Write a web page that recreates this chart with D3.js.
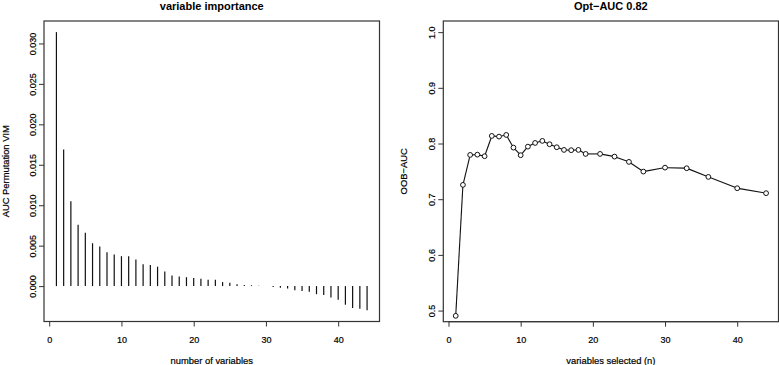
<!DOCTYPE html>
<html>
<head>
<meta charset="utf-8">
<script src="https://cdn.jsdelivr.net/npm/d3@7"></script>
<style>
  body { margin: 0; background: #fff; }
  text { font-family: "Liberation Sans", Arial, sans-serif; fill: #000; }
</style>
</head>
<body>
<div id="container"></div>
<script>
/* CONSTANTS AND GLOBALS */
const width = 779,
  height = 365;

// left panel: permutation importance per variable (type = "h")
const impRank = d3.range(1, 45);
const impVals = [0.0314, 0.0169, 0.0105, 0.0076, 0.0066, 0.0053, 0.0049, 0.0042, 0.0039, 0.0037,
  0.0037, 0.0033, 0.0027, 0.0026, 0.0024, 0.0018, 0.0013, 0.0012, 0.0011, 0.0010,
  0.0009, 0.0008, 0.0008, 0.0005, 0.0004, 0.00022, 0.00015, 0.0001, 0.00005, 0.00002,
  -0.0001, -0.0002, -0.0003, -0.0005, -0.0006, -0.0007, -0.0010, -0.0011, -0.0014, -0.0017,
  -0.0023, -0.0027, -0.0028, -0.0030];
const impYTicks = [0, 0.005, 0.010, 0.015, 0.020, 0.025, 0.030];

// right panel: OOB-AUC vs number of variables selected
const nSelected = [1, 2, 3, 4, 5, 6, 7, 8, 9, 10, 11, 12, 13, 14, 15, 16, 17, 18, 19, 21, 23, 25, 27, 30, 33, 36, 40, 44];
const oobAuc = [0.4905, 0.7257, 0.7795, 0.780, 0.7772, 0.8136, 0.8124, 0.8154, 0.7926, 0.779,
  0.7944, 0.801, 0.8047, 0.7987, 0.7933, 0.7885, 0.788, 0.7885, 0.7813, 0.7813,
  0.7765, 0.767, 0.7496, 0.7567, 0.7556, 0.740, 0.7197, 0.7108];
const aucYTicks = [0.5, 0.6, 0.7, 0.8, 0.9, 1.0];
const xTicks = [0, 10, 20, 30, 40];

// R style 4% axis extension
function rExtend(lo, hi) {
  const e = (hi - lo) * 0.04;
  return [lo - e, hi + e];
}

const svg = d3.select("#container")
  .append("svg")
  .attr("width", width)
  .attr("height", height);

function panel(box, xScale, yScale, yTicks, yFmt, title, xLabel, yLabel, yLabOff) {
  const g = svg.append("g");

  // x axis
  const xAxis = d3.axisBottom(xScale).tickValues(xTicks).tickSize(5).tickSizeOuter(0).tickPadding(10);
  const gx = g.append("g")
    .attr("transform", `translate(0,${box.bottom})`)
    .call(xAxis);
  gx.select(".domain").remove();
  gx.append("line")
    .attr("x1", xScale(xTicks[0])).attr("x2", xScale(xTicks[xTicks.length - 1]))
    .attr("stroke", "#333");
  gx.selectAll("text")
    .style("font-size", "9px")
    .attr("fill", "#000")
    .attr("stroke", "#000")
    .attr("stroke-width", 0.2);
  gx.selectAll(".tick line").attr("stroke", "#333");

  // y axis, labels parallel to the axis
  const yAxis = d3.axisLeft(yScale).tickValues(yTicks).tickSize(5).tickSizeOuter(0).tickFormat(d3.format(yFmt));
  const gy = g.append("g")
    .attr("transform", `translate(${box.left},0)`)
    .call(yAxis);
  gy.select(".domain").remove();
  gy.selectAll(".tick line").attr("stroke", "#333");
  gy.selectAll("text")
    .style("font-size", "9px")
    .attr("fill", "#000")
    .attr("stroke", "#000")
    .attr("stroke-width", 0.2)
    .attr("x", null)
    .attr("dy", "0.35em")
    .attr("text-anchor", "middle")
    .attr("transform", "translate(-11,0) rotate(-90)");

  // box
  g.append("rect")
    .attr("x", box.left)
    .attr("y", box.top)
    .attr("width", box.right - box.left)
    .attr("height", box.bottom - box.top)
    .attr("fill", "none")
    .attr("stroke", "#333")
    .attr("stroke-width", 1.2);

  // titles
  g.append("text")
    .attr("x", (box.left + box.right) / 2)
    .attr("y", 10)
    .attr("text-anchor", "middle")
    .style("font-size", "11px")
    .style("font-weight", "bold")
    .text(title);

  g.append("text")
    .attr("x", (box.left + box.right) / 2)
    .attr("y", 363.5)
    .attr("text-anchor", "middle")
    .style("font-size", "9.4px")
    .attr("stroke", "#000")
    .attr("stroke-width", 0.2)
    .text(xLabel);

  g.append("text")
    .attr("text-anchor", "middle")
    .attr("dy", "0.35em")
    .attr("transform", `translate(${box.left - yLabOff},${(box.top + box.bottom) / 2}) rotate(-90)`)
    .style("font-size", "9.4px")
    .attr("stroke", "#000")
    .attr("stroke-width", 0.2)
    .text(yLabel);

  return g;
}

/* LEFT PANEL */
const box1 = { left: 44, right: 379.5, top: 21, bottom: 321.5 };
const x1 = d3.scaleLinear()
  .domain(rExtend(d3.min(impRank), d3.max(impRank)))
  .range([box1.left, box1.right]);
const y1 = d3.scaleLinear()
  .domain(rExtend(d3.min(impVals), d3.max(impVals)))
  .range([box1.bottom, box1.top]);

const g1 = panel(box1, x1, y1, impYTicks, ".3f", "variable importance", "number of variables", "AUC Permutation VIM", 38);

g1.selectAll("line.bar")
  .data(impVals)
  .join("line")
  .attr("class", "bar")
  .attr("x1", (d, i) => x1(impRank[i]))
  .attr("x2", (d, i) => x1(impRank[i]))
  .attr("y1", y1(0))
  .attr("y2", d => y1(d))
  .attr("stroke", "#111")
  .attr("stroke-width", 1.2);

/* RIGHT PANEL */
const box2 = { left: 443.3, right: 778.5, top: 21, bottom: 321.7 };
const x2 = d3.scaleLinear()
  .domain(rExtend(1, 44))
  .range([box2.left, box2.right]);
const y2 = d3.scaleLinear()
  .domain(rExtend(0.5, 1))
  .range([box2.bottom, box2.top]);

const g2 = panel(box2, x2, y2, aucYTicks, ".1f", "Opt\u2212AUC 0.82", "variables selected (n)", "OOB\u2212AUC", 40);

const r = 2.4;
const pts = nSelected.map((n, i) => [x2(n), y2(oobAuc[i])]);

// type = "b": segments stop short of the circles
g2.selectAll("line.seg")
  .data(d3.pairs(pts))
  .join("line")
  .attr("class", "seg")
  .each(function([a, b]) {
    const dx = b[0] - a[0], dy = b[1] - a[1];
    const len = Math.hypot(dx, dy);
    const ux = dx / len, uy = dy / len;
    d3.select(this)
      .attr("x1", a[0] + ux * r).attr("y1", a[1] + uy * r)
      .attr("x2", b[0] - ux * r).attr("y2", b[1] - uy * r);
  })
  .attr("stroke", "#111")
  .attr("stroke-width", 1.1)
  .style("display", ([a, b]) => Math.hypot(b[0] - a[0], b[1] - a[1]) > 2 * r ? null : "none");

g2.selectAll("circle")
  .data(pts)
  .join("circle")
  .attr("cx", d => d[0])
  .attr("cy", d => d[1])
  .attr("r", r)
  .attr("fill", "none")
  .attr("stroke", "#111")
  .attr("stroke-width", 1);
</script>
</body>
</html>
